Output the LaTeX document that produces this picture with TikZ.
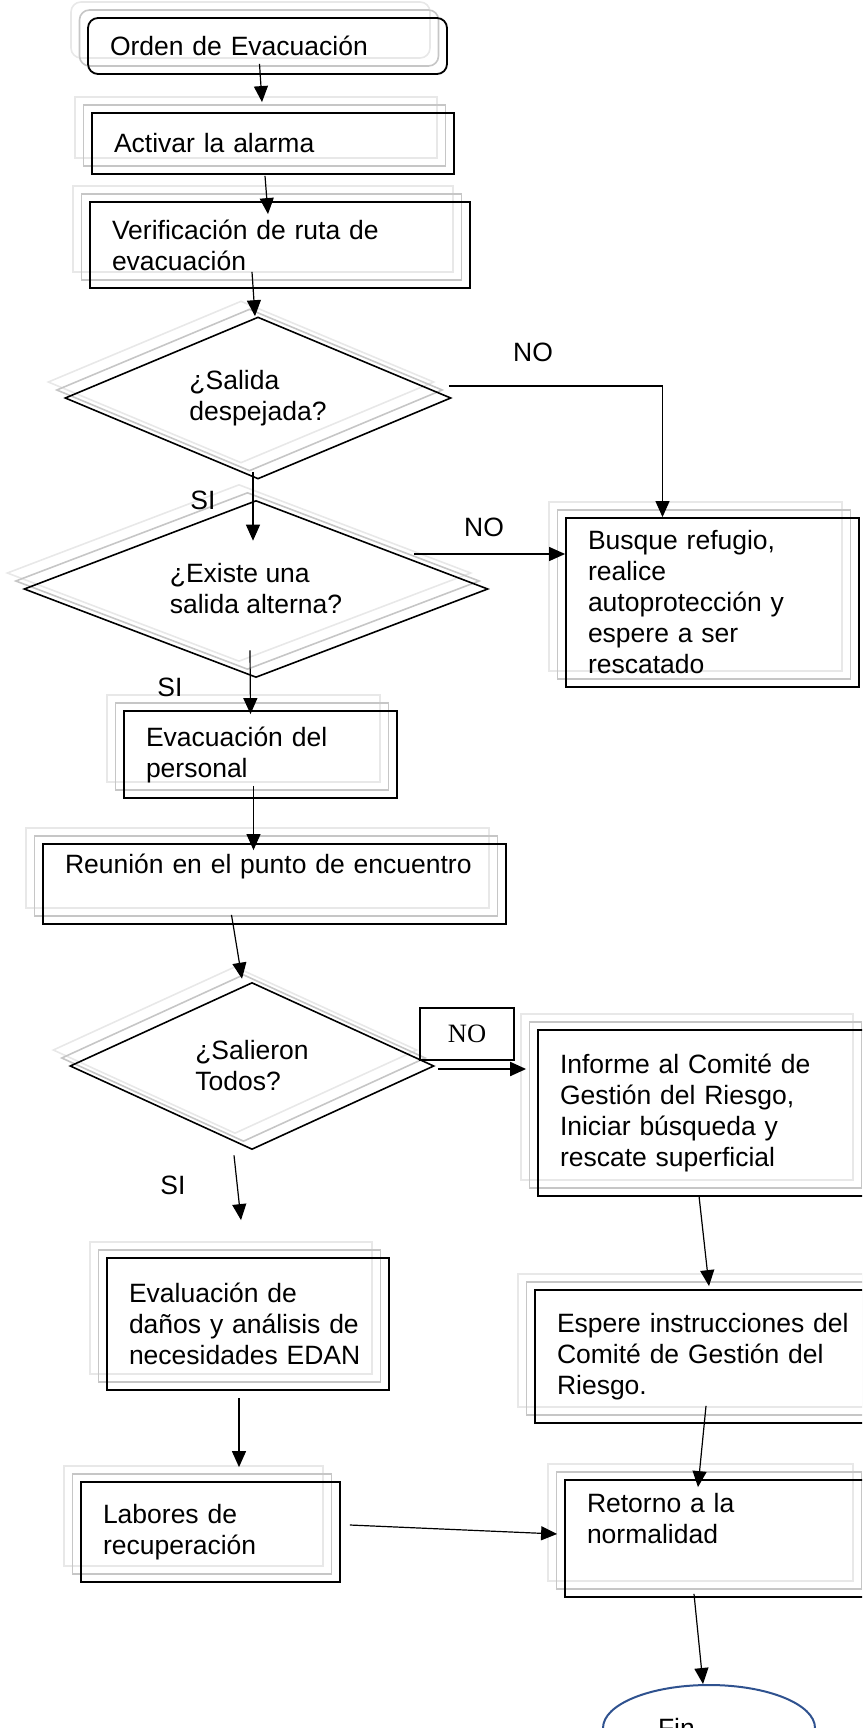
\documentclass[tikz,border=0pt]{standalone}
\usepackage{fontspec}
\setmainfont{Liberation Sans}
\newfontfamily\timesfont{Liberation Serif}
\usetikzlibrary{shapes.geometric,arrows.meta,calc}
\definecolor{finazul}{HTML}{2F528F}
\begin{document}
\begin{tikzpicture}[x=0.5pt,y=-0.5pt,font=\fontsize{13.25}{15.5}\selectfont,
	sombras/.style={preaction={draw=gray!18,fill=none,line width=0.8pt,transform canvas={shift={(-8.5pt,8pt)}}},
		preaction={draw=gray!45,fill=none,line width=0.8pt,transform canvas={shift={(-4.25pt,4pt)}}}},
	caja/.style={draw,line width=0.9pt,rectangle,align=left,inner xsep=11pt,inner ysep=2pt,sombras},
	rombo/.style={draw,line width=0.8pt,diamond,aspect=2.4,align=left,inner sep=0pt,sombras},
	flecha/.style={-{Triangle[length=8pt,width=7pt]},line width=0.6pt}]
	\useasboundingbox (0,0) rectangle (862,1728);
	\clip (0,0) rectangle (862,1728);
	\node[caja,rounded corners=5pt,minimum width=179.5pt,minimum height=28pt,text width=157.5pt] (orden) at (267.5,46) {Orden de Evacuación};
	\node[caja,minimum width=181pt,minimum height=30.5pt,text width=159pt] (alarma) at (273,143.5) {Activar la alarma};
	\node[caja,minimum width=190pt,minimum height=43pt,text width=168pt] (ruta) at (280,245) {Verificación de ruta de\\evacuación};
	\node[rombo,minimum width=193pt,minimum height=81pt] (salida) at (258,398) {¿Salida\\despejada?};
	\node[caja,minimum width=146.5pt,minimum height=84.5pt,text width=124.5pt] (busque) at (712.5,602.5) {Busque refugio,\\realice\\autoprotección y\\espere a ser\\rescatado};
	\node[rombo,minimum width=232pt,minimum height=88.5pt] (alterna) at (256,589) {¿Existe una\\salida alterna?};
	\node[caja,minimum width=136.5pt,minimum height=43.5pt,text width=114.5pt] (evac) at (260.5,754.5) {Evacuación del\\personal};
	\node[caja,minimum width=231.5pt,minimum height=40pt,text width=209.5pt] (reunion) at (274.5,884) {Reunión en el punto de encuentro\\\strut};
	\node[rombo,minimum width=182pt,minimum height=83.5pt] (todos) at (252,1066) {¿Salieron\\Todos?};
	\node[draw,line width=0.8pt,minimum width=47pt,minimum height=26pt,inner sep=0pt,font=\timesfont\fontsize{13.25}{15.5}\selectfont] (nobox) at (467,1034) {NO};
	\node[caja,minimum width=166pt,minimum height=83pt,text width=144pt] (informe) at (704,1113) {Informe al Comité de\\Gestión del Riesgo,\\Iniciar búsqueda y\\rescate superficial};
	\node[caja,minimum width=141pt,minimum height=66pt,text width=119pt] (edan) at (248,1324) {Evaluación de\\daños y análisis de\\necesidades EDAN};
	\node[caja,minimum width=172.5pt,minimum height=66.5pt,text width=150.5pt] (espere) at (707.5,1356.5) {Espere instrucciones del\\Comité de Gestión del\\Riesgo.};
	\node[caja,minimum width=129.5pt,minimum height=50pt,text width=107.5pt] (labores) at (210.5,1532) {Labores de\\recuperación};
	\node[caja,minimum width=152.5pt,minimum height=58.5pt,text width=130.5pt] (retorno) at (717.5,1538.5) {Retorno a la\\normalidad\\\strut};
	\node[draw=finazul,line width=1pt,ellipse,minimum width=106pt,minimum height=43pt,inner sep=0pt,text width=51pt,align=left] (fin) at (709,1728) {Fin};
	\node (no1) at (533,352) {NO};
	\node (si1) at (203,500) {SI};
	\node (no2lbl) at (484,527) {NO};
	\node (si2) at (170,687) {SI};
	\node (si3) at (173,1185) {SI};
	\draw[flecha] ([shift={(-8,-11)}]orden.south) -- ([shift={(-11,-10)}]alarma.north);
	\draw[flecha] ([shift={(-8,1)}]alarma.south) -- ([shift={(-12,13)}]ruta.north);
	\draw[flecha] ([shift={(-28,-17)}]ruta.south) -- ([shift={(-3,0)}]salida.north);
	\draw[flecha] ([shift={(-3,-12)}]salida.east) -| ([shift={(-50,0)}]busque.north);
	\draw[flecha] ([shift={(-5,-8)}]salida.south) -- ([shift={(-3,41)}]alterna.north);
	\coordinate (no2) at ([shift={(-75,-35)}]alterna.east);
	\draw[flecha] (no2) -- (no2 -| busque.west);
	\draw[flecha] ([shift={(-6,-28)}]alterna.south) -- ([shift={(-10,4)}]evac.north);
	\draw[flecha] ([shift={(-7,-13)}]evac.south) -- ([shift={(-21,7)}]reunion.north);
	\draw[flecha] ([shift={(-43,-10)}]reunion.south) -- ([shift={(-10,-3)}]todos.north);
	\coordinate (no3) at ([shift={(3,3)}]todos.east);
	\draw[flecha,line width=1pt] (no3) -- ($(no3 -| informe.west)+(-11,0)$);
	\draw[flecha] ([shift={(-18,5)}]todos.south) -- ([shift={(-7,-37)}]edan.north);
	\draw[flecha] ([shift={(-5,-1)}]informe.south) -- ([shift={(1.5,-3)}]espere.north);
	\draw[flecha] ([shift={(-9,7)}]edan.south) -- ([shift={(28.5,-14)}]labores.north);
	\draw[flecha] ([shift={(-1.5,-18)}]espere.south) -- ([shift={(-19.5,8)}]retorno.north);
	\draw[flecha] ([shift={(9,-7)}]labores.east) -- ([shift={(-7,-4.5)}]retorno.west);
	\draw[flecha] ([shift={(-23.5,-4)}]retorno.south) -- ([shift={(-6,0)}]fin.north);
\end{tikzpicture}
\end{document}
